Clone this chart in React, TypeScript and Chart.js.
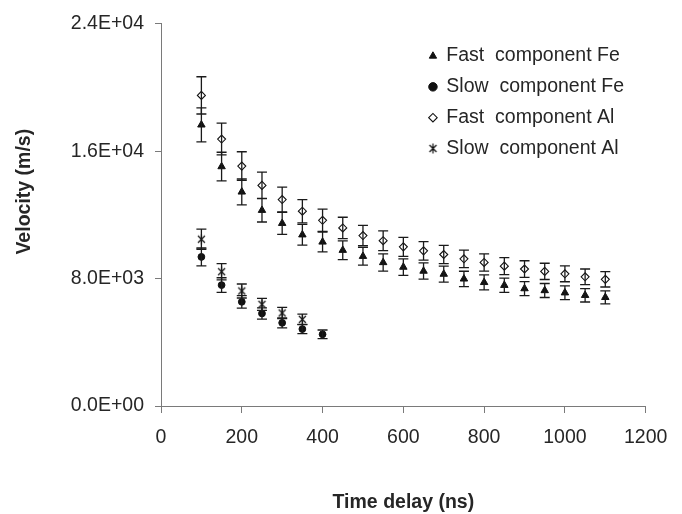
import React, { useEffect, useRef } from "react";
import { Chart, registerables } from "chart.js";

Chart.register(...registerables);

// ---- data ----
const timeFast = [100, 150, 200, 250, 300, 350, 400, 450, 500, 550, 600, 650, 700, 750, 800, 850, 900, 950, 1000, 1050, 1100];
const fastFe = [17650, 15030, 13440, 12290, 11470, 10750, 10300, 9780, 9400, 9010, 8720, 8470, 8280, 7980, 7760, 7580, 7370, 7250, 7110, 6950, 6820];
const fastFeErr = [1070, 900, 810, 740, 690, 650, 620, 590, 560, 540, 520, 510, 500, 480, 470, 450, 440, 440, 430, 420, 410];
const fastAl = [19500, 16760, 15060, 13850, 12960, 12230, 11660, 11180, 10700, 10380, 9990, 9740, 9510, 9240, 9010, 8780, 8600, 8450, 8300, 8110, 7950];
const fastAlErr = [1170, 1000, 900, 830, 780, 730, 700, 670, 640, 620, 600, 580, 570, 550, 540, 530, 520, 510, 500, 490, 480];

const timeSlowFe = [100, 150, 200, 250, 300, 350, 400];
const slowFe = [9360, 7590, 6540, 5810, 5220, 4830, 4500];
const slowFeErr = [560, 460, 390, 350, 310, 290, 270];

const timeSlowAl = [100, 150, 200, 250, 300, 350];
const slowAl = [10470, 8430, 7220, 6380, 5840, 5440];
const slowAlErr = [630, 510, 440, 380, 350, 330];

const seriesNames = ["Fast  component Fe", "Slow  component Fe", "Fast  component Al", "Slow  component Al"];
const xTitle = "Time delay (ns)";
const yTitle = "Velocity (m/s)";

const FONT = "'Liberation Sans', Arial, Helvetica, sans-serif";
const AXIS = "#7a7a7a";
const TEXT = "#262626";

function sci(v: number): string {
  if (v === 0) return "0.0E+00";
  const e = Math.floor(Math.log10(Math.abs(v)) + 1e-9);
  const m = v / Math.pow(10, e);
  return m.toFixed(1) + "E" + (e >= 0 ? "+" : "-") + String(Math.abs(e)).padStart(2, "0");
}

function pts(xs: number[], ys: number[]) {
  return xs.map((x, i) => ({ x, y: ys[i] }));
}

function makeStar(): HTMLCanvasElement {
  const c = document.createElement("canvas");
  c.width = 11;
  c.height = 11;
  const g = c.getContext("2d")!;
  g.strokeStyle = "#111";
  g.lineWidth = 1.2;
  g.beginPath();
  g.moveTo(2, 2);
  g.lineTo(9, 9);
  g.moveTo(9, 2);
  g.lineTo(2, 9);
  g.moveTo(5.5, 0.5);
  g.lineTo(5.5, 10.5);
  g.stroke();
  return c;
}

const errorBars = {
  id: "errorBars",
  afterDatasetsDraw(chart: any) {
    const ctx = chart.ctx;
    const xs = chart.scales.x;
    const ys = chart.scales.y;
    ctx.save();
    ctx.strokeStyle = "#1a1a1a";
    ctx.lineWidth = 1.3;
    chart.data.datasets.forEach((ds: any) => {
      const errs: number[] = ds.errors || [];
      ds.data.forEach((p: any, j: number) => {
        const e = errs[j] || 0;
        const px = xs.getPixelForValue(p.x);
        const top = ys.getPixelForValue(p.y + e);
        const bot = ys.getPixelForValue(p.y - e);
        ctx.beginPath();
        ctx.moveTo(px, top);
        ctx.lineTo(px, bot);
        ctx.moveTo(px - 5, top);
        ctx.lineTo(px + 5, top);
        ctx.moveTo(px - 5, bot);
        ctx.lineTo(px + 5, bot);
        ctx.stroke();
      });
    });
    ctx.restore();
  },
};

const placeLegend = {
  id: "placeLegend",
  afterLayout(chart: any) {
    const lg = chart.legend;
    if (!lg) return;
    lg.left = 418;
    lg.top = 35;
    lg.right = 682;
    lg.bottom = 260;
  },
};

const yTitlePlugin = {
  id: "yTitle",
  afterDraw(chart: any) {
    const ctx = chart.ctx;
    ctx.save();
    ctx.translate(29.5, 191.7);
    ctx.rotate(-Math.PI / 2);
    ctx.font = "bold 19.5px " + FONT;
    ctx.fillStyle = TEXT;
    ctx.textAlign = "center";
    ctx.textBaseline = "alphabetic";
    ctx.fillText(yTitle, 0, 0);
    ctx.restore();
  },
};

export default function App() {
  const ref = useRef<HTMLCanvasElement | null>(null);

  useEffect(() => {
    if (!ref.current) return;
    const star = makeStar();
    const chart = new Chart(ref.current, {
      type: "scatter",
      data: {
        datasets: [
          {
            label: seriesNames[0],
            data: pts(timeFast, fastFe),
            errors: fastFeErr,
            pointStyle: "triangle",
            pointRadius: 4.3,
            backgroundColor: "#111",
            borderColor: "#111",
            borderWidth: 1,
          } as any,
          {
            label: seriesNames[1],
            data: pts(timeSlowFe, slowFe),
            errors: slowFeErr,
            pointStyle: "circle",
            pointRadius: 3.4,
            backgroundColor: "#111",
            borderColor: "#111",
            borderWidth: 1,
          } as any,
          {
            label: seriesNames[2],
            data: pts(timeFast, fastAl),
            errors: fastAlErr,
            pointStyle: "rectRot",
            pointRadius: 4,
            backgroundColor: "#ffffff",
            borderColor: "#111",
            borderWidth: 1.1,
          } as any,
          {
            label: seriesNames[3],
            data: pts(timeSlowAl, slowAl),
            errors: slowAlErr,
            pointStyle: star,
            pointRadius: 4.5,
            backgroundColor: "#111",
            borderColor: "#111",
            borderWidth: 1,
          } as any,
        ],
      },
      options: {
        responsive: false,
        animation: false,
        devicePixelRatio: 1,
        layout: { padding: { top: 23.7, right: 36.3, bottom: 0, left: 0 } },
        font: { family: FONT },
        plugins: {
          tooltip: { enabled: false },
          legend: {
            position: "chartArea" as any,
            align: "start",
            labels: {
              usePointStyle: true,
              boxWidth: 7.3,
              boxHeight: 6,
              padding: 11.3,
              color: TEXT,
              font: { family: FONT, size: 19.5 },
            },
          },
        },
        scales: {
          x: {
            type: "linear",
            min: 0,
            max: 1200,
            ticks: {
              stepSize: 200,
              padding: 13,
              color: TEXT,
              font: { family: FONT, size: 19.5 },
              maxRotation: 0,
              callback: (v: any) => String(v),
            },
            grid: {
              drawOnChartArea: false,
              drawTicks: true,
              tickLength: 7,
              color: AXIS,
            },
            border: { display: true, color: AXIS, width: 1 },
            title: {
              display: true,
              text: xTitle,
              color: TEXT,
              font: { family: FONT, size: 19.5, weight: "bold" },
              padding: { top: 0, bottom: 0 },
            },
            afterFit(scale: any) {
              scale.height = 108;
            },
          },
          y: {
            type: "linear",
            min: 0,
            max: 24000,
            ticks: {
              stepSize: 8000,
              padding: 11,
              color: TEXT,
              font: { family: FONT, size: 19.5 },
              callback: (v: any) => sci(Number(v)),
            },
            grid: {
              drawOnChartArea: false,
              drawTicks: true,
              tickLength: 6,
              color: AXIS,
            },
            border: { display: true, color: AXIS, width: 1 },
            afterFit(scale: any) {
              scale.width = 161;
            },
          },
        },
      } as any,
      plugins: [errorBars, placeLegend, yTitlePlugin],
    });
    return () => chart.destroy();
  }, []);

  return (
    <div style={{ position: "absolute", left: 0, top: 0, width: 682, height: 514, background: "#fff" }}>
      <canvas ref={ref} width={682} height={514} />
    </div>
  );
}
